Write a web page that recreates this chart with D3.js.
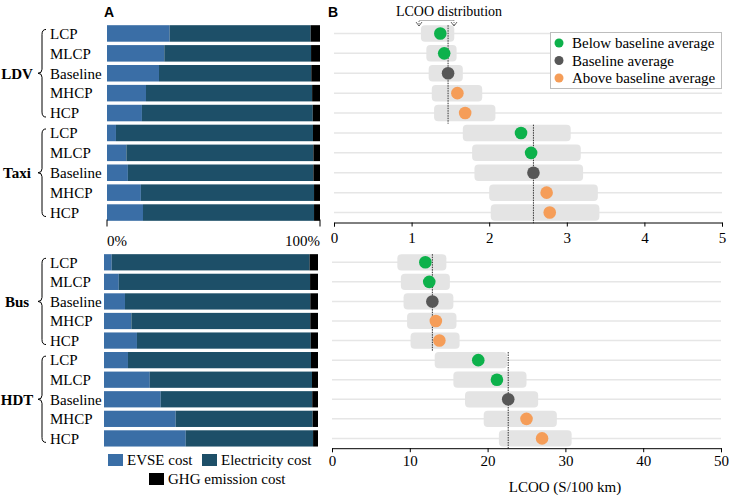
<!DOCTYPE html>
<html>
<head>
<meta charset="utf-8">
<script src="https://cdn.jsdelivr.net/npm/d3@7"></script>
<style>
  body { margin: 0; background: #fff; }
  svg { display: block; font-family: "Liberation Serif", "Times New Roman", serif; }
</style>
</head>
<body>
<svg id="chart" width="729" height="495"></svg>
<script>
// Cost shares (panel A) and LCOO ranges (panel B) per vehicle group / scenario

const groups = ['LDV', 'Taxi', 'Bus', 'HDT'];
const scenarios = ['LCP', 'MLCP', 'Baseline', 'MHCP', 'HCP'];

// shares in %, one row per group, in scenario order
const evseShare = [
    [29.4, 26.9, 24.4, 18.3, 16.4],
    [4.2, 9.1, 9.8, 15.9, 16.9],
    [3.6, 6.9, 9.8, 12.8, 15.4],
    [11.2, 21.4, 26.5, 33.5, 38.2]
];
const elecShare = [
    [66.2, 68.9, 71.5, 78.0, 80.2],
    [92.5, 87.8, 87.1, 81.3, 80.3],
    [92.5, 89.4, 86.6, 83.6, 81.2],
    [85.5, 75.8, 70.8, 64.0, 59.5]
];
const ghgShare = [
    [4.4, 4.2, 4.1, 3.7, 3.4],
    [3.3, 3.1, 3.1, 2.8, 2.8],
    [3.9, 3.7, 3.6, 3.6, 3.4],
    [3.3, 2.8, 2.7, 2.5, 2.3]
];

// LCOO ($/100 km)
const lcooMean = [
    [1.37, 1.42, 1.47, 1.59, 1.69],
    [2.41, 2.54, 2.57, 2.74, 2.78],
    [12.0, 12.5, 12.9, 13.35, 13.8],
    [18.8, 21.2, 22.65, 25.0, 27.0]
];
const lcooLow = [
    [1.12, 1.19, 1.22, 1.26, 1.29],
    [1.66, 1.78, 1.81, 2.0, 2.02],
    [8.4, 8.85, 9.2, 9.65, 10.1],
    [13.2, 15.6, 17.1, 19.5, 21.45]
];
const lcooHigh = [
    [1.55, 1.58, 1.66, 1.91, 2.08],
    [3.05, 3.18, 3.21, 3.40, 3.42],
    [14.7, 15.15, 15.6, 16.0, 16.4],
    [22.5, 25.0, 26.5, 28.9, 30.8]
];

const topTicks = [0, 1, 2, 3, 4, 5];
const bottomTicks = [0, 10, 20, 30, 40, 50];

const costKeys = ['EVSE cost', 'Electricity cost', 'GHG emission cost'];
const costColors = ['#3a6ea6', '#1d4f68', '#000000'];
const dotLegend = ['Below baseline average', 'Baseline average', 'Above baseline average'];
const dotColors = ['#0db14b', '#575757', '#f59d58'];

const svg = d3.select('#chart');

function dotClass(s) {
    if (s < 2) return 0;
    if (s === 2) return 1;
    return 2;
}

function brace(x, y0, y1) {
    const ym = (y0 + y1) / 2;
    return `M${x + 4},${y0} Q${x},${y0} ${x},${y0 + 5} L${x},${ym - 4} Q${x},${ym} ${x - 4},${ym}` +
        ` Q${x},${ym} ${x},${ym + 4} L${x},${y1 - 5} Q${x},${y1} ${x + 4},${y1}`;
}

function drawPanel(opts) {
    const gIds = opts.groups;
    const rows = [];
    gIds.forEach(gi => scenarios.forEach((s, si) => rows.push({ gi, si, key: groups[gi] + '-' + s })));

    const y = d3.scaleBand()
        .domain(rows.map(r => r.key))
        .range(opts.yRange)
        .paddingInner(0.17)
        .paddingOuter(0.085);
    const step = y.step();

    // ---------- panel A: stacked shares ----------
    const xa = d3.scaleLinear().domain([0, 100]).range(opts.xA);
    const ga = svg.append('g');

    rows.forEach(r => {
        const vals = [evseShare[r.gi][r.si], elecShare[r.gi][r.si], ghgShare[r.gi][r.si]];
        let acc = 0;
        vals.forEach((v, k) => {
            ga.append('rect')
                .attr('x', xa(acc))
                .attr('y', y(r.key))
                .attr('width', xa(acc + v) - xa(acc))
                .attr('height', y.bandwidth())
                .attr('fill', costColors[k]);
            acc += v;
        });
    });

    // scenario and group labels
    rows.forEach(r => {
        ga.append('text')
            .attr('x', 50)
            .attr('y', y(r.key) + y.bandwidth() / 2)
            .attr('dy', '0.35em')
            .style('font-size', '15px')
            .text(scenarios[r.si]);
    });

    gIds.forEach(gi => {
        const yFirst = y(groups[gi] + '-' + scenarios[0]) + y.bandwidth() / 2;
        const yLast = y(groups[gi] + '-' + scenarios[4]) + y.bandwidth() / 2;
        ga.append('path')
            .attr('d', brace(42, yFirst - 4, yLast + 4))
            .attr('fill', 'none')
            .attr('stroke', '#000')
            .attr('stroke-width', 1);
        ga.append('text')
            .attr('x', 17)
            .attr('y', (yFirst + yLast) / 2)
            .attr('dy', '0.35em')
            .attr('text-anchor', 'middle')
            .style('font-size', '15px')
            .style('font-weight', 'bold')
            .text(groups[gi]);
    });

    // ---------- panel B: LCOO distribution ----------
    const xb = d3.scaleLinear().domain(opts.bDomain).range(opts.xB);
    const gb = svg.append('g');

    rows.forEach(r => {
        gb.append('line')
            .attr('x1', xb.range()[0])
            .attr('x2', xb.range()[1])
            .attr('y1', y(r.key) + y.bandwidth() / 2)
            .attr('y2', y(r.key) + y.bandwidth() / 2)
            .attr('stroke', '#e6e6e6')
            .attr('stroke-width', 1.5);
    });

    rows.forEach(r => {
        const lo = lcooLow[r.gi][r.si];
        const hi = lcooHigh[r.gi][r.si];
        gb.append('rect')
            .attr('x', xb(lo))
            .attr('y', y(r.key))
            .attr('width', xb(hi) - xb(lo))
            .attr('height', y.bandwidth())
            .attr('rx', 4)
            .attr('fill', '#e4e4e4');
    });

    // baseline average reference lines
    gIds.forEach(gi => {
        const base = lcooMean[gi][2];
        const y0 = y(groups[gi] + '-' + scenarios[0]);
        const y1 = y(groups[gi] + '-' + scenarios[4]) + step - 1;
        gb.append('line')
            .attr('x1', xb(base)).attr('x2', xb(base))
            .attr('y1', y0).attr('y2', y1)
            .attr('stroke', '#333')
            .attr('stroke-width', 1)
            .attr('stroke-dasharray', '1.5,1');
    });

    rows.forEach(r => {
        gb.append('circle')
            .attr('cx', xb(lcooMean[r.gi][r.si]))
            .attr('cy', y(r.key) + y.bandwidth() / 2)
            .attr('r', 6.3)
            .attr('fill', dotColors[dotClass(r.si)]);
    });

    const axisY = opts.yRange[1];
    const axis = gb.append('g')
        .attr('transform', `translate(0,${axisY})`)
        .call(d3.axisBottom(xb)
            .tickValues(opts.ticks)
            .tickFormat(d3.format('d'))
            .tickSize(4)
            .tickSizeOuter(4)
            .tickPadding(opts.tickPad));
    axis.select('.domain').attr('stroke', '#000');
    axis.selectAll('.tick line').attr('stroke', '#000');
    axis.selectAll('text')
        .style('font-family', '"Liberation Serif", serif')
        .style('font-size', '15px')
        .attr('fill', '#000');

    return { y, xa, xb, axisY };
}

// top panel: LDV + Taxi
const topPanel = drawPanel({
    groups: [0, 1],
    yRange: [23.5, 222.5],
    xA: [107, 320],
    xB: [334, 722],
    bDomain: [0, 5],
    ticks: topTicks,
    tickPad: 6
});

// bottom panel: Bus + HDT
const bottomPanel = drawPanel({
    groups: [2, 3],
    yRange: [252.5, 448.2],
    xA: [104, 318],
    xB: [332, 721],
    bDomain: [0, 50],
    ticks: bottomTicks,
    tickPad: 3.5
});

// panel A percent ticks (top only)
[0, 100].forEach(v => {
    const x = topPanel.xa(v);
    svg.append('line')
        .attr('x1', x).attr('x2', x)
        .attr('y1', topPanel.axisY - 3).attr('y2', topPanel.axisY + 4)
        .attr('stroke', '#000');
    svg.append('text')
        .attr('x', x)
        .attr('y', topPanel.axisY + 23)
        .attr('text-anchor', v === 0 ? 'start' : 'end')
        .style('font-size', '15px')
        .text(v + '%');
});

// panel letters
svg.append('text').attr('x', 104).attr('y', 17)
    .style('font-family', '"Liberation Sans", Arial, sans-serif')
    .style('font-weight', 'bold').style('font-size', '14px').text('A');
svg.append('text').attr('x', 328).attr('y', 17)
    .style('font-family', '"Liberation Sans", Arial, sans-serif')
    .style('font-weight', 'bold').style('font-size', '14px').text('B');

// LCOO distribution annotation
svg.append('text')
    .attr('x', 449).attr('y', 16)
    .attr('text-anchor', 'middle')
    .style('font-size', '14px')
    .text('LCOO distribution');
svg.append('path')
    .attr('d', 'M419,26 L419,20.5 L454,20.5 L454,26')
    .attr('fill', 'none')
    .attr('stroke', '#444')
    .attr('stroke-width', 0.8)
    .attr('stroke-dasharray', '1,1');
[419, 454].forEach(x => {
    svg.append('path')
        .attr('d', `M${x - 3},${22} L${x},${26} L${x + 3},${22}`)
        .attr('fill', 'none')
        .attr('stroke', '#444')
        .attr('stroke-width', 0.8);
});

// legend for dots (panel B)
const lg = svg.append('g');
lg.append('rect')
    .attr('x', 550.5).attr('y', 32.5)
    .attr('width', 171).attr('height', 56)
    .attr('fill', '#fff')
    .attr('stroke', '#bdbdbd');
dotLegend.forEach((label, i) => {
    const yy = 43 + i * 17.5;
    lg.append('circle').attr('cx', 559).attr('cy', yy).attr('r', 4.5).attr('fill', dotColors[i]);
    lg.append('text').attr('x', 572).attr('y', yy).attr('dy', '0.35em')
        .style('font-size', '15px').text(label);
});

// legend for cost components (panel A)
const costLegendPos = [[108, 454], [202, 454], [149, 473]];
costKeys.forEach((label, i) => {
    const [lx, ly] = costLegendPos[i];
    svg.append('rect').attr('x', lx).attr('y', ly).attr('width', 15).attr('height', 12).attr('fill', costColors[i]);
    svg.append('text').attr('x', lx + 19).attr('y', ly + 6).attr('dy', '0.35em')
        .style('font-size', '15px').text(label);
});

// x-axis title
svg.append('text')
    .attr('x', 565).attr('y', 492)
    .attr('text-anchor', 'middle')
    .style('font-size', '15px')
    .text('LCOO (S/100 km)');
</script>
</body>
</html>
